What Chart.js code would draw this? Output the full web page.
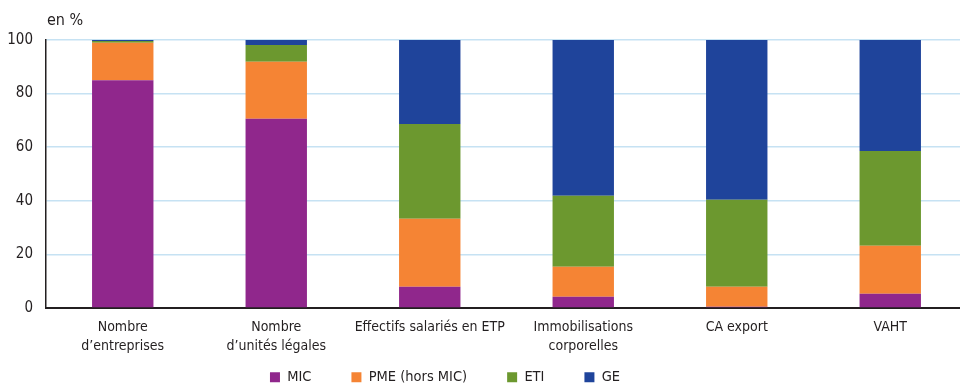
<!DOCTYPE html>
<html>
<head>
    <meta charset="utf-8">
    <script src="https://cdn.jsdelivr.net/npm/chart.js@4/dist/chart.umd.min.js"></script>
</head>
<body>
    <canvas id="repartition" width="967" height="383" role="img" aria-label="Répartition par catégorie d'entreprises, en %"></canvas>
</body>
</html>

<script>
    // DATA (en %)
    const categories = [
        ['Nombre', 'd’entreprises'],
        ['Nombre', 'd’unités légales'],
        'Effectifs salariés en ETP',
        ['Immobilisations', 'corporelles'],
        'CA export',
        'VAHT'
    ];
    const micValues = [85.0, 70.6, 7.9, 4.2, 0.5, 5.3];
    const pmeValues = [14.0, 21.3, 25.4, 11.2, 7.4, 17.9];
    const etiValues = [0.6, 6.2, 35.4, 26.5, 32.5, 35.4];
    const geValues = [0.4, 1.9, 31.3, 58.1, 59.6, 41.4];
    const yTicks = [0, 20, 40, 60, 80, 100];

    const FONT = "'Liberation Sans Narrow', 'DejaVu Sans Condensed', 'Arial Narrow', sans-serif";
    const TEXT = '#231f20';
    Chart.defaults.font.family = FONT;
    Chart.defaults.color = TEXT;

    // "en %" au-dessus de l'axe + position de la légende
    const extras = {
        id: 'extras',
        beforeInit(chart) {
            const legend = chart.legend;
            const fit = legend.fit;
            legend.fit = function () {
                fit.call(this);
                this.height = 1;
            };
        },
        afterLayout(chart) {
            const legend = chart.legend;
            legend.left = 0;
            legend.right = 890;
            legend.width = 890;
            legend.top = 377 - 40 - 7;
            legend.bottom = 383;
            legend.height = legend.bottom - legend.top;
        },
        afterDraw(chart) {
            const ctx = chart.ctx;
            ctx.save();
            ctx.font = `16px ${FONT}`;
            ctx.fillStyle = TEXT;
            ctx.textBaseline = 'middle';
            ctx.textAlign = 'left';
            ctx.fillText('en %', 47, 21);
            ctx.restore();
        }
    };

    const makeSet = (label, data, color) => ({
        label: label,
        data: data,
        backgroundColor: color,
        borderWidth: 0,
        barPercentage: 0.4,
        categoryPercentage: 1
    });

    new Chart(document.getElementById('repartition'), {
        type: 'bar',
        data: {
            labels: categories,
            datasets: [
                makeSet('MIC', micValues, '#90278c'),
                makeSet('PME (hors MIC)', pmeValues, '#f58434'),
                makeSet('ETI', etiValues, '#6c982f'),
                makeSet('GE', geValues, '#1f449b')
            ]
        },
        options: {
            responsive: false,
            animation: false,
            layout: { padding: { top: 40, left: 0, right: 0, bottom: 0 } },
            plugins: {
                tooltip: { enabled: false },
                legend: {
                    position: 'bottom',
                    labels: {
                        boxWidth: 10,
                        boxHeight: 10,
                        padding: 40,
                        font: { size: 14.5 },
                        color: TEXT
                    }
                }
            },
            scales: {
                x: {
                    stacked: true,
                    grid: { display: false, drawTicks: false },
                    border: { display: true, color: TEXT, width: 2 },
                    ticks: {
                        padding: 10,
                        maxRotation: 0,
                        autoSkip: false,
                        font: { size: 14, lineHeight: 1.33 },
                        color: TEXT
                    },
                    afterFit(scale) { scale.height = 74; }
                },
                y: {
                    stacked: true,
                    min: 0,
                    max: 100,
                    afterBuildTicks(scale) {
                        scale.ticks = yTicks.map(v => ({ value: v }));
                    },
                    grid: { color: '#c6e2f3', lineWidth: 1.5, drawTicks: false },
                    border: { display: true, color: TEXT, width: 1.5 },
                    ticks: {
                        padding: 13,
                        font: { size: 15 },
                        color: TEXT
                    },
                    afterFit(scale) { scale.width = 46; }
                }
            }
        },
        plugins: [extras]
    });
</script>

<style>
html, body {
    margin: 0;
    padding: 0;
    background: #ffffff;
    overflow: hidden;
    width: 960px;
    height: 383px;
}
canvas {
    display: block;
}
</style>
